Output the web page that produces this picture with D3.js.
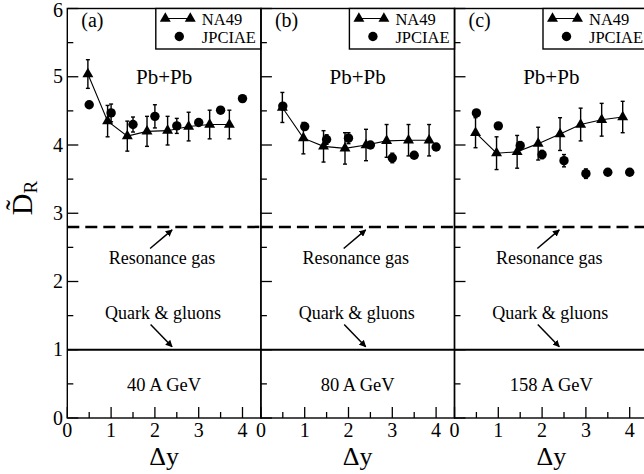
<!DOCTYPE html>
<html><head><meta charset="utf-8">
<script src="https://cdn.jsdelivr.net/npm/d3@7"></script>
<style>
html,body{margin:0;padding:0;background:#fff;}
svg{display:block;}
text{font-family:"Liberation Serif","Times New Roman",serif;fill:#000;}
</style></head>
<body>
<svg id="chart" width="644" height="474"></svg>
<script>
// ---- data ----
const panelNames = ["(a)", "(b)", "(c)"];
const energies = ["40 A GeV", "80 A GeV", "158 A GeV"];
const xTicks = [0, 1, 2, 3, 4];
const yTicks = [0, 1, 2, 3, 4, 5, 6];
const resonanceGas = 2.8;
const quarkGluons = 1.0;

const na49X_a = [0.47, 0.92, 1.37, 1.82, 2.29, 2.77, 3.25, 3.70];
const na49Y_a = [5.04, 4.35, 4.13, 4.20, 4.21, 4.27, 4.30, 4.30];
const na49E_a = [0.21, 0.23, 0.22, 0.22, 0.21, 0.21, 0.21, 0.21];
const na49X_b = [0.49, 0.97, 1.43, 1.92, 2.40, 2.87, 3.37, 3.84];
const na49Y_b = [4.55, 4.10, 3.98, 3.95, 4.00, 4.06, 4.07, 4.07];
const na49E_b = [0.22, 0.23, 0.23, 0.23, 0.23, 0.24, 0.23, 0.23];
const na49X_c = [0.48, 0.96, 1.43, 1.91, 2.41, 2.88, 3.36, 3.84];
const na49Y_c = [4.18, 3.88, 3.90, 4.02, 4.16, 4.30, 4.37, 4.41];
const na49E_c = [0.22, 0.24, 0.24, 0.24, 0.24, 0.24, 0.24, 0.23];

const jpX = [0.5, 1.0, 1.5, 2.0, 2.5, 3.0, 3.5, 4.0];
const jpY_a = [4.59, 4.47, 4.30, 4.42, 4.28, 4.33, 4.51, 4.68];
const jpE_a = [0, 0.13, 0.11, 0.17, 0.11, 0, 0, 0];
const jpY_b = [4.57, 4.27, 4.08, 4.10, 4.00, 3.81, 3.85, 3.97];
const jpE_b = [0, 0, 0.07, 0.08, 0, 0.07, 0, 0];
const jpY_c = [4.47, 4.28, 3.99, 3.86, 3.77, 3.58, 3.60, 3.60];
const jpE_c = [0, 0, 0.06, 0.06, 0.09, 0.07, 0, 0];

const panels = [
  {na: [na49X_a, na49Y_a, na49E_a], jp: [jpX, jpY_a, jpE_a]},
  {na: [na49X_b, na49Y_b, na49E_b], jp: [jpX, jpY_b, jpE_b]},
  {na: [na49X_c, na49Y_c, na49E_c], jp: [jpX, jpY_c, jpE_c]}
];

// ---- layout ----
const svg = d3.select("#chart");
const left0 = 67.3, panelW = 193.6, plotTop = 8.5, plotBottom = 418;
const y = d3.scaleLinear().domain([0, 6]).range([plotBottom, plotTop]);

svg.append("defs").append("marker")
  .attr("id", "arr").attr("viewBox", "0 0 10 10").attr("refX", 9).attr("refY", 5)
  .attr("markerWidth", 7).attr("markerHeight", 7).attr("markerUnits", "userSpaceOnUse")
  .attr("orient", "auto")
  .append("path").attr("d", "M0,0 L10,5 L0,10 Z").attr("fill", "#000");

const tri = d3.symbol().type(d3.symbolTriangle).size(52);

panels.forEach((p, i) => {
  const x0 = left0 + i * panelW;
  const x = d3.scaleLinear().domain([0, panelW / 43.8]).range([x0, x0 + panelW]);
  const g = svg.append("g");
  const cx = x0 + panelW / 2;

  // frame
  g.append("rect").attr("x", x0).attr("y", plotTop).attr("width", panelW).attr("height", plotBottom - plotTop)
    .attr("fill", "none").attr("stroke", "#000").attr("stroke-width", 1.4);

  // x ticks (inward)
  const xMinor = d3.range(0.5, 4.5, 1);
  g.selectAll(".xt").data(xTicks).enter().append("line")
    .attr("x1", d => x(d)).attr("x2", d => x(d)).attr("y1", plotBottom).attr("y2", plotBottom - 11)
    .attr("stroke", "#000").attr("stroke-width", 1.3);
  g.selectAll(".xm").data(xMinor).enter().append("line")
    .attr("x1", d => x(d)).attr("x2", d => x(d)).attr("y1", plotBottom).attr("y2", plotBottom - 6)
    .attr("stroke", "#000").attr("stroke-width", 1.3);
  g.selectAll(".xl").data(xTicks).enter().append("text")
    .attr("x", d => x(d)).attr("y", 437).attr("text-anchor", "middle")
    .attr("font-size", 20).text(d => d);

  // y ticks (inward, on left side)
  const yMinor = d3.range(0.5, 6, 1);
  g.selectAll(".yt").data(yTicks).enter().append("line")
    .attr("x1", x0).attr("x2", x0 + 11).attr("y1", d => y(d)).attr("y2", d => y(d))
    .attr("stroke", "#000").attr("stroke-width", 1.3);
  g.selectAll(".ym").data(yMinor).enter().append("line")
    .attr("x1", x0).attr("x2", x0 + 6).attr("y1", d => y(d)).attr("y2", d => y(d))
    .attr("stroke", "#000").attr("stroke-width", 1.3);
  if (i === 0) {
    g.selectAll(".yl").data(yTicks).enter().append("text")
      .attr("x", 63).attr("y", d => Math.max(y(d) + 6.5, 17)).attr("text-anchor", "end")
      .attr("font-size", 20).text(d => d);
  }

  // axis title
  g.append("text").attr("x", cx).attr("y", 465).attr("text-anchor", "middle")
    .attr("font-size", 26).text("Δy");

  // panel label
  g.append("text").attr("x", x0 + 14).attr("y", 26.5).attr("font-size", 20).text(panelNames[i]);

  // legend box
  const lx = x0 + 88.5;
  g.append("rect").attr("x", lx).attr("y", plotTop).attr("width", x0 + panelW - lx).attr("height", 49 - plotTop)
    .attr("fill", "#fff").attr("stroke", "#000").attr("stroke-width", 1.4);
  g.append("line").attr("x1", lx + 9.5).attr("x2", lx + 34.5).attr("y1", 18.5).attr("y2", 18.5)
    .attr("stroke", "#000").attr("stroke-width", 1);
  [lx + 9.5, lx + 34.5].forEach(tx =>
    g.append("path").attr("d", tri).attr("transform", `translate(${tx},18.5)`).attr("fill", "#000"));
  g.append("circle").attr("cx", lx + 23.5).attr("cy", 36.5).attr("r", 4.7).attr("fill", "#000");
  g.append("text").attr("x", lx + 46).attr("y", 24.5).attr("font-size", 16.5).text("NA49");
  g.append("text").attr("x", lx + 46).attr("y", 43).attr("font-size", 16.5).text("JPCIAE");

  // system label
  g.append("text").attr("x", cx).attr("y", 84).attr("text-anchor", "middle")
    .attr("font-size", 21).text("Pb+Pb");

  // reference lines
  g.append("line").attr("x1", x0).attr("x2", x0 + panelW).attr("y1", y(resonanceGas)).attr("y2", y(resonanceGas))
    .attr("stroke", "#000").attr("stroke-width", 2.5).attr("stroke-dasharray", "12,6");
  g.append("line").attr("x1", x0).attr("x2", x0 + panelW).attr("y1", y(quarkGluons)).attr("y2", y(quarkGluons))
    .attr("stroke", "#000").attr("stroke-width", 2);

  // annotations
  g.append("text").attr("x", cx - 2).attr("y", 264).attr("text-anchor", "middle")
    .attr("font-size", 18).text("Resonance gas");
  g.append("line").attr("x1", cx - 14).attr("y1", 248.5).attr("x2", cx + 8).attr("y2", y(resonanceGas) + 3)
    .attr("stroke", "#000").attr("stroke-width", 1.5).attr("marker-end", "url(#arr)");
  g.append("text").attr("x", cx - 1).attr("y", 318.5).attr("text-anchor", "middle")
    .attr("font-size", 18).text("Quark & gluons");
  g.append("line").attr("x1", cx - 13.5).attr("y1", 324.5).attr("x2", cx + 8).attr("y2", y(quarkGluons) - 3)
    .attr("stroke", "#000").attr("stroke-width", 1.5).attr("marker-end", "url(#arr)");
  g.append("text").attr("x", cx).attr("y", 391).attr("text-anchor", "middle")
    .attr("font-size", 18.5).text(energies[i]);

  // data
  const na = p.na[0].map((xv, k) => ({x: xv, y: p.na[1][k], e: p.na[2][k]}));
  const jp = p.jp[0].map((xv, k) => ({x: xv, y: p.jp[1][k], e: p.jp[2][k]}));

  const errG = g.append("g").attr("stroke", "#000").attr("stroke-width", 1.4);
  [...na, ...jp].filter(d => d.e > 0).forEach(d => {
    errG.append("line").attr("x1", x(d.x)).attr("x2", x(d.x)).attr("y1", y(d.y - d.e)).attr("y2", y(d.y + d.e));
    errG.append("line").attr("x1", x(d.x) - 2).attr("x2", x(d.x) + 2).attr("y1", y(d.y - d.e)).attr("y2", y(d.y - d.e));
    errG.append("line").attr("x1", x(d.x) - 2).attr("x2", x(d.x) + 2).attr("y1", y(d.y + d.e)).attr("y2", y(d.y + d.e));
  });

  g.append("path").datum(na)
    .attr("d", d3.line().x(d => x(d.x)).y(d => y(d.y)))
    .attr("fill", "none").attr("stroke", "#000").attr("stroke-width", 1.1);
  g.selectAll(".tri").data(na).enter().append("path")
    .attr("d", tri).attr("transform", d => `translate(${x(d.x)},${y(d.y)})`).attr("fill", "#000");
  g.selectAll(".dot").data(jp).enter().append("circle")
    .attr("cx", d => x(d.x)).attr("cy", d => y(d.y)).attr("r", 4.7).attr("fill", "#000");
});

// y axis title
const yt = svg.append("text").attr("transform", "translate(32,198) rotate(-90)")
  .attr("text-anchor", "middle").attr("font-size", 30);
yt.append("tspan").text("D\u0303");
yt.append("tspan").attr("font-size", 19).attr("dy", 5).text("R");
</script>
</body></html>
